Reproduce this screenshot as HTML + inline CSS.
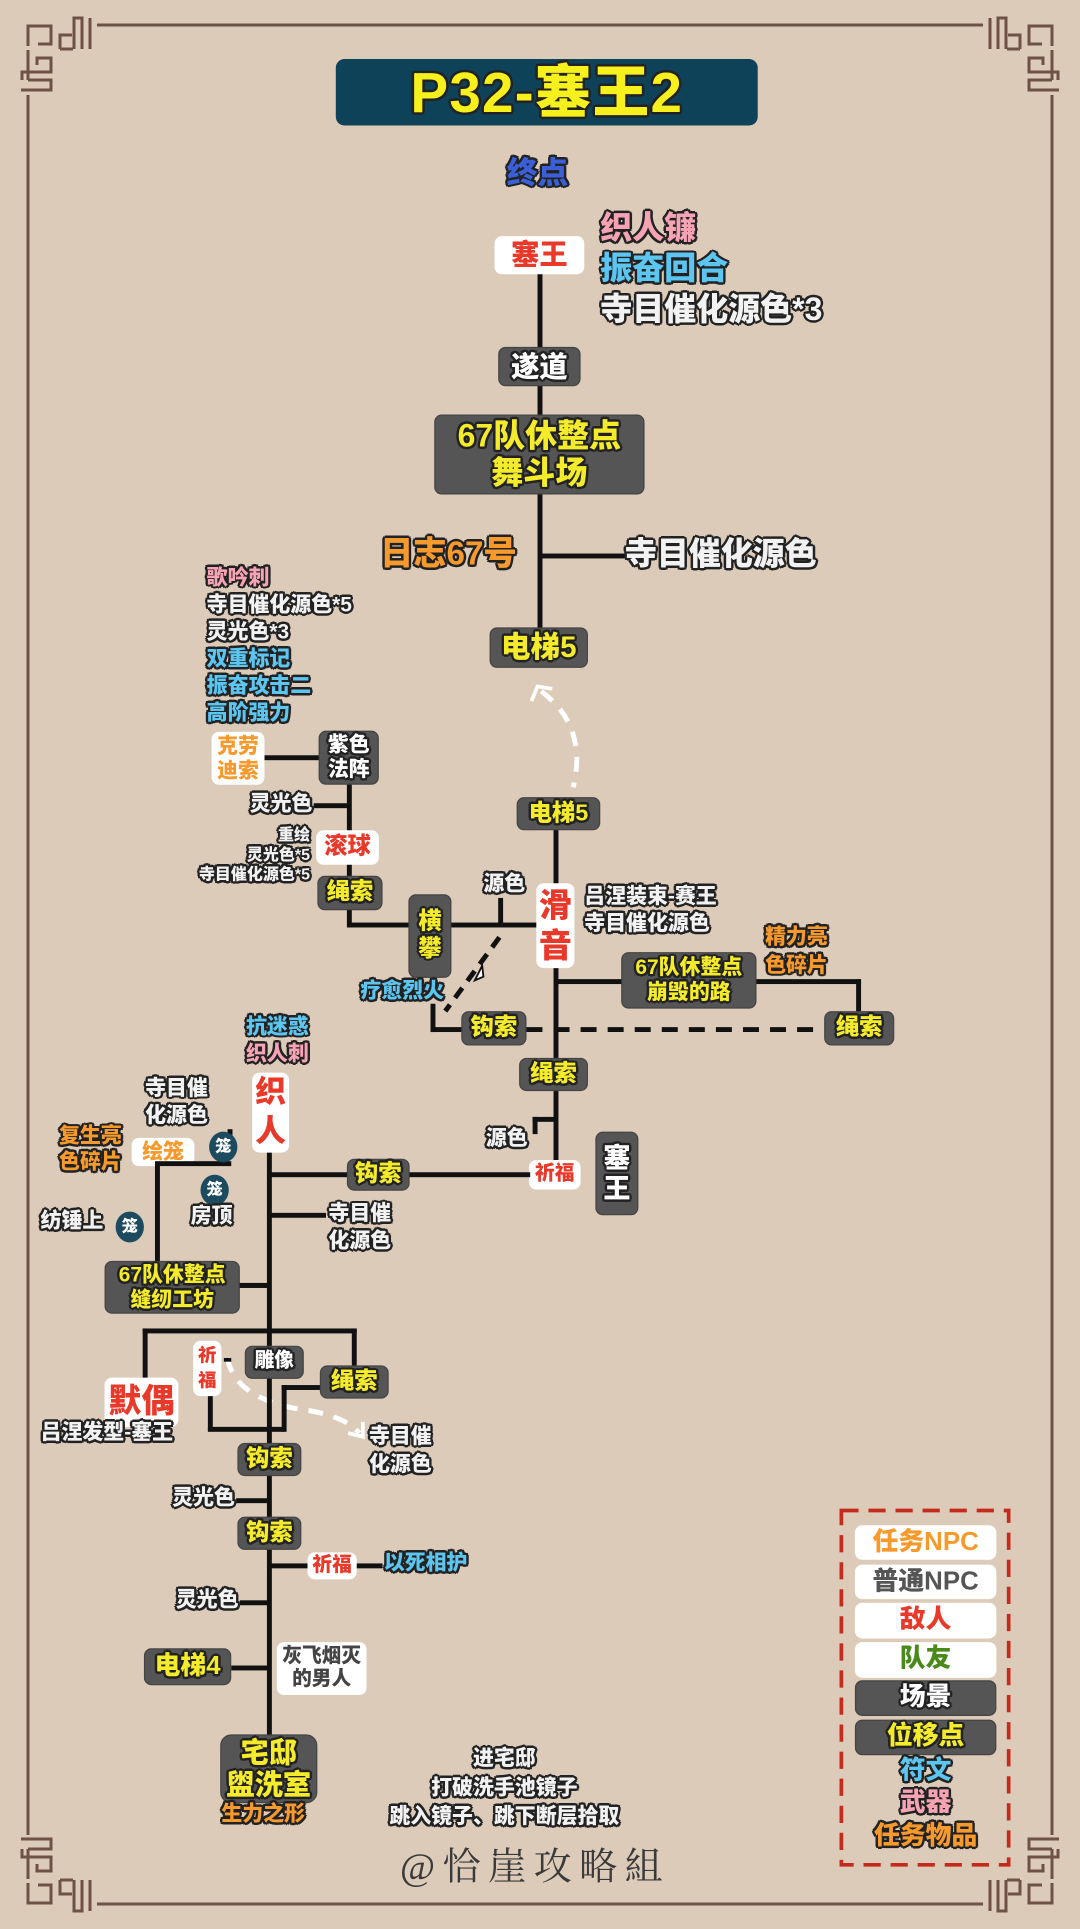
<!DOCTYPE html>
<html><head><meta charset="utf-8">
<style>
*{margin:0;padding:0;box-sizing:border-box}
html,body{width:1080px;height:1929px;background:#dccbb9;overflow:hidden}
#w{position:absolute;left:0;top:0;width:878px;height:1568px;transform:scale(1.23007);transform-origin:0 0;font-family:"Liberation Sans","Noto Sans CJK SC",sans-serif;font-weight:900}
.a{position:absolute;white-space:nowrap;line-height:1.15}
.o{text-shadow:-1.5px -1.5px 0 #222,1.5px -1.5px 0 #222,-1.5px 1.5px 0 #222,1.5px 1.5px 0 #222,0 2px 0 #222,0 -2px 0 #222,2px 0 0 #222,-2px 0 0 #222}
.b{position:absolute;border-radius:6px;display:flex;align-items:center;justify-content:center;text-align:center;line-height:1.15;font-weight:900}
.d{background:#555;border:1.5px solid #444}
.wh{background:#fff}
.y{color:#f4ec2a}
.r{color:#e8392a}
.wt{color:#fff}
.g{color:#f2f2f2}
.bl{color:#5cc5f0}
.pk{color:#f6a4b4}
.or{color:#f79a2e}
.L{position:absolute;background:#111}
.c{text-align:center}
.rt{text-align:right}
</style></head><body>
<svg width="1080" height="1929" style="position:absolute;left:0;top:0" fill="none" stroke="#6e5246" stroke-width="3">
<line x1="28" y1="95" x2="28" y2="1835"/><line x1="1052" y1="95" x2="1052" y2="1835"/>
<line x1="97" y1="25" x2="983" y2="25"/><line x1="97" y1="1904" x2="983" y2="1904"/>
<g id="c"><path d="M28,46 V26 H51 V44 H38 M60,49 V35 H72 M60,49 H73 M74,49 V18 H82 V49 M90,18 V49 M28,50 V80 M37,65 V58 H51 V72 H22 V80 M21,90 H51 V80 H28"/></g>
<use href="#c" transform="translate(1080,0) scale(-1,1)"/>
<use href="#c" transform="translate(0,1929) scale(1,-1)"/>
<use href="#c" transform="translate(1080,1929) scale(-1,-1)"/>
</svg>
<div id="w">
<div class="b" style="left:273px;top:48px;width:343px;height:54px;background:#0e4259;border-radius:7px;font-size:46px;color:#f6f01c;letter-spacing:1px" ><span class="o">P32-塞王2</span></div>
<div class="a o" style="left:412px;top:127px;font-size:25px;color:#3b5fd6">终点</div>

<div class="L" style="left:436.5px;top:222px;width:4px;height:290px"></div>
<div class="b wh r" style="left:402px;top:192px;width:73px;height:31px;font-size:23px">塞王</div>
<div class="a o pk" style="left:488px;top:171px;font-size:26px">织人镰</div>
<div class="a o bl" style="left:488px;top:204px;font-size:26px">振奋回合</div>
<div class="a o g" style="left:488px;top:237px;font-size:26px">寺目催化源色*3</div>
<div class="b d wt" style="left:405px;top:282px;width:67px;height:32px;font-size:23px"><span class="o">遂道</span></div>
<div class="b d y" style="left:353px;top:337px;width:171px;height:65px;font-size:26px"><span class="o">67队休整点<br>舞斗场</span></div>
<div class="L" style="left:438px;top:450px;width:72px;height:4px"></div>
<div class="a o or" style="left:309px;top:435px;font-size:27px">日志67号</div>
<div class="a o g" style="left:508px;top:436px;font-size:26px">寺目催化源色</div>
<div class="b d y" style="left:398px;top:510px;width:80px;height:33px;font-size:24px"><span class="o">电梯5</span></div>

<svg style="position:absolute;left:0;top:0" width="878" height="1568" fill="none">
<path d="M440,562 Q478,590 466,640" stroke="#fff" stroke-width="4" stroke-dasharray="12,9"/>
<path d="M432,570 L437,558 L449,560" stroke="#fff" stroke-width="3"/>
<path d="M406,762 L362,822" stroke="#111" stroke-width="4" stroke-dasharray="10,7"/>
<path d="M386,797 L392,785 L393,794 Z" stroke="#111" stroke-width="1.5" fill="#fff"/>
<path d="M428,837 H670" stroke="#111" stroke-width="4" stroke-dasharray="13,9"/>
<path d="M185,1104 Q190,1135 240,1145 Q280,1150 292,1165" stroke="#fff" stroke-width="4" stroke-dasharray="12,9"/>
<path d="M283,1165 L295,1168 L295,1156" stroke="#fff" stroke-width="3"/>
<rect x="684" y="1228" width="136" height="288" stroke="#c42b1c" stroke-width="3" stroke-dasharray="14,8"/>
</svg>

<div class="a o pk" style="left:168px;top:460px;font-size:17px">歌吟刺</div>
<div class="a o g" style="left:168px;top:482px;font-size:17px">寺目催化源色*5</div>
<div class="a o g" style="left:168px;top:504px;font-size:17px">灵光色*3</div>
<div class="a o bl" style="left:168px;top:526px;font-size:17px">双重标记</div>
<div class="a o bl" style="left:168px;top:548px;font-size:17px">振奋攻击二</div>
<div class="a o bl" style="left:168px;top:570px;font-size:17px">高阶强力</div>

<div class="L" style="left:215px;top:614px;width:45px;height:4px"></div>
<div class="L" style="left:281.5px;top:636px;width:4px;height:118px"></div>
<div class="L" style="left:283px;top:750px;width:154px;height:4px"></div>
<div class="b wh or" style="left:172px;top:595px;width:43px;height:43px;font-size:17px"><span>克劳<br>迪索</span></div>
<div class="b d wt" style="left:259px;top:594px;width:49px;height:44px;font-size:17px"><span class="o">紫色<br>法阵</span></div>
<div class="L" style="left:255px;top:653px;width:28px;height:4px"></div>
<div class="a o g" style="left:203px;top:644px;font-size:17px">灵光色</div>
<div class="b wh r" style="left:257px;top:675px;width:51px;height:28px;font-size:19px">滚球</div>
<div class="a o g rt" style="right:626px;top:671px;font-size:13px;line-height:16px">重绘<br>灵光色*5<br>寺目催化源色*5</div>
<div class="b d y" style="left:258px;top:712px;width:53px;height:28px;font-size:19px"><span class="o">绳索</span></div>
<div class="b d y" style="left:332px;top:727px;width:35px;height:68px;font-size:19px"><span class="o">横<br>攀</span></div>
<div class="L" style="left:405px;top:730px;width:4px;height:22px"></div>
<div class="a o g" style="left:393px;top:709px;font-size:17px">源色</div>
<div class="a o bl" style="left:293px;top:796px;font-size:17px">疗愈烈火</div>
<div class="L" style="left:350px;top:816px;width:4px;height:23px"></div>
<div class="L" style="left:350px;top:835px;width:26px;height:4px"></div>
<div class="b d y" style="left:375px;top:822px;width:53px;height:28px;font-size:19px"><span class="o">钩索</span></div>

<div class="L" style="left:450px;top:674px;width:4px;height:272px"></div>
<div class="b d y" style="left:420px;top:648px;width:68px;height:27px;font-size:19px"><span class="o">电梯5</span></div>
<div class="b wh r" style="left:436px;top:718px;width:31px;height:69px;font-size:27px;line-height:1.2">滑<br>音</div>
<div class="a o g" style="left:475px;top:719px;font-size:17px">吕涅装束-赛王</div>
<div class="a o g" style="left:475px;top:741px;font-size:17px">寺目催化源色</div>
<div class="L" style="left:452px;top:796px;width:248px;height:4px"></div>
<div class="L" style="left:696px;top:796px;width:4px;height:28px"></div>
<div class="b d y" style="left:505px;top:774px;width:110px;height:46px;font-size:17px"><span class="o">67队休整点<br>崩毁的路</span></div>
<div class="a o or" style="left:622px;top:750px;font-size:17px;line-height:23px">精力亮<br>色碎片</div>
<div class="b d y" style="left:670px;top:822px;width:57px;height:28px;font-size:19px"><span class="o">绳索</span></div>
<div class="b d y" style="left:422px;top:860px;width:56px;height:27px;font-size:19px"><span class="o">绳索</span></div>
<div class="L" style="left:433px;top:908px;width:19px;height:4px"></div>
<div class="L" style="left:433px;top:908px;width:4px;height:14px"></div>
<div class="a o g" style="left:395px;top:916px;font-size:17px">源色</div>
<div class="b wh r" style="left:430px;top:943px;width:42px;height:24px;font-size:16px">祈福</div>
<div class="b d wt" style="left:484px;top:920px;width:35px;height:68px;font-size:22px"><span class="o">塞<br>王</span></div>

<div class="L" style="left:217px;top:936px;width:4px;height:476px"></div>
<div class="L" style="left:219px;top:953px;width:212px;height:4px"></div>
<div class="b d y" style="left:282px;top:942px;width:51px;height:26px;font-size:19px"><span class="o">钩索</span></div>
<div class="a o bl" style="left:200px;top:825px;font-size:17px">抗迷惑</div>
<div class="a o pk" style="left:200px;top:847px;font-size:17px">织人刺</div>
<div class="b wh r" style="left:205px;top:872px;width:30px;height:65px;font-size:25px;line-height:1.25">织<br>人</div>
<div class="a o g" style="left:118px;top:874px;font-size:17px;line-height:22px">寺目催<br>化源色</div>
<div class="L" style="left:185px;top:918px;width:4px;height:14px"></div>
<div class="b wh or" style="left:107px;top:925px;width:51px;height:23px;font-size:17px">绘笼</div>
<div class="a o or" style="left:48px;top:913px;font-size:17px;line-height:21px">复生亮<br>色碎片</div>
<div class="L" style="left:126px;top:946px;width:4px;height:100px"></div>
<div class="L" style="left:126px;top:944px;width:62px;height:4px"></div>
<div class="L" style="left:126px;top:1043px;width:93px;height:4px"></div>
<div class="b" style="left:170px;top:920px;width:23px;height:25px;border-radius:50%;background:#1c4a5e;color:#fff;font-size:13px">笼</div>
<div class="b" style="left:163px;top:955px;width:23px;height:25px;border-radius:50%;background:#1c4a5e;color:#fff;font-size:13px">笼</div>
<div class="b" style="left:94px;top:985px;width:23px;height:25px;border-radius:50%;background:#1c4a5e;color:#fff;font-size:13px">笼</div>
<div class="a o g" style="left:155px;top:979px;font-size:17px">房顶</div>
<div class="a o g" style="left:33px;top:983px;font-size:17px">纺锤上</div>
<div class="L" style="left:219px;top:986px;width:46px;height:4px"></div>
<div class="a o g" style="left:267px;top:976px;font-size:17px;line-height:22px">寺目催<br>化源色</div>
<div class="b d y" style="left:85px;top:1025px;width:110px;height:43px;font-size:17px"><span class="o">67队休整点<br>缝纫工坊</span></div>
<div class="L" style="left:195px;top:1043px;width:24px;height:4px"></div>
<div class="L" style="left:116px;top:1080px;width:174px;height:4px"></div>
<div class="L" style="left:116px;top:1080px;width:4px;height:42px"></div>
<div class="L" style="left:286px;top:1080px;width:4px;height:32px"></div>
<div class="b wh r" style="left:85px;top:1120px;width:60px;height:40px;font-size:27px">默偶</div>
<div class="a o g" style="left:33px;top:1155px;font-size:17px">吕涅发型-塞王</div>
<div class="L" style="left:169px;top:1133px;width:4px;height:30px"></div>
<div class="L" style="left:169px;top:1160px;width:62px;height:4px"></div>
<div class="L" style="left:229px;top:1126px;width:4px;height:38px"></div>
<div class="L" style="left:229px;top:1126px;width:32px;height:4px"></div>
<div class="L" style="left:182px;top:1104px;width:6px;height:3px"></div>
<div class="b wh r" style="left:157px;top:1090px;width:23px;height:45px;font-size:15px;line-height:1.3">祈<br>福</div>
<div class="b d wt" style="left:199px;top:1094px;width:48px;height:27px;font-size:16px"><span class="o">雕像</span></div>
<div class="b d y" style="left:260px;top:1110px;width:56px;height:27px;font-size:19px"><span class="o">绳索</span></div>
<div class="b d y" style="left:193px;top:1173px;width:52px;height:27px;font-size:19px"><span class="o">钩索</span></div>
<div class="a o g" style="left:300px;top:1156px;font-size:17px;line-height:23px">寺目催<br>化源色</div>
<div class="L" style="left:192px;top:1218px;width:27px;height:4px"></div>
<div class="a o g" style="left:140px;top:1208px;font-size:17px">灵光色</div>
<div class="b d y" style="left:193px;top:1233px;width:52px;height:27px;font-size:19px"><span class="o">钩索</span></div>
<div class="L" style="left:219px;top:1271px;width:92px;height:4px"></div>
<div class="b wh r" style="left:250px;top:1262px;width:40px;height:22px;font-size:16px">祈福</div>
<div class="a o bl" style="left:312px;top:1261px;font-size:17px">以死相护</div>
<div class="L" style="left:195px;top:1301px;width:24px;height:4px"></div>
<div class="a o g" style="left:143px;top:1291px;font-size:17px">灵光色</div>
<div class="L" style="left:188px;top:1354px;width:31px;height:4px"></div>
<div class="b d y" style="left:117px;top:1340px;width:71px;height:30px;font-size:21px"><span class="o">电梯4</span></div>
<div class="b wh" style="left:225px;top:1335px;width:73px;height:43px;font-size:16px;color:#444">灰飞烟灭<br>的男人</div>
<div class="b d y" style="left:179px;top:1410px;width:79px;height:56px;font-size:23px;border-radius:9px"><span class="o">宅邸<br>盥洗室</span></div>
<div class="a o or" style="left:180px;top:1465px;font-size:17px">生力之形</div>
<div class="a o g c" style="left:255px;width:310px;top:1418px;font-size:17px;line-height:23.5px">进宅邸<br>打破洗手池镜子<br>跳入镜子、跳下断层拾取</div>
<div class="a c" style="left:320px;width:230px;top:1500px;font-size:31px;color:#3a3a3a;font-weight:400;font-family:'Liberation Serif','Noto Serif CJK SC',serif;letter-spacing:6px">@恰崖攻略組</div>

<div class="b wh or" style="left:695px;top:1240px;width:115px;height:28px;font-size:21px">任务NPC</div>
<div class="b wh" style="left:695px;top:1272px;width:115px;height:28px;font-size:21px;color:#555">普通NPC</div>
<div class="b wh r" style="left:695px;top:1303px;width:115px;height:29px;font-size:21px">敌人</div>
<div class="b wh" style="left:695px;top:1335px;width:115px;height:29px;font-size:21px;color:#4a8a1a">队友</div>
<div class="b d wt" style="left:695px;top:1366px;width:115px;height:29px;font-size:21px"><span class="o">场景</span></div>
<div class="b d y" style="left:695px;top:1398px;width:115px;height:29px;font-size:21px"><span class="o">位移点</span></div>
<div class="a o bl c" style="left:695px;width:115px;top:1428px;font-size:21px">符文</div>
<div class="a o pk c" style="left:695px;width:115px;top:1454px;font-size:21px">武器</div>
<div class="a o or c" style="left:695px;width:115px;top:1481px;font-size:21px">任务物品</div>
</div>
</body></html>
